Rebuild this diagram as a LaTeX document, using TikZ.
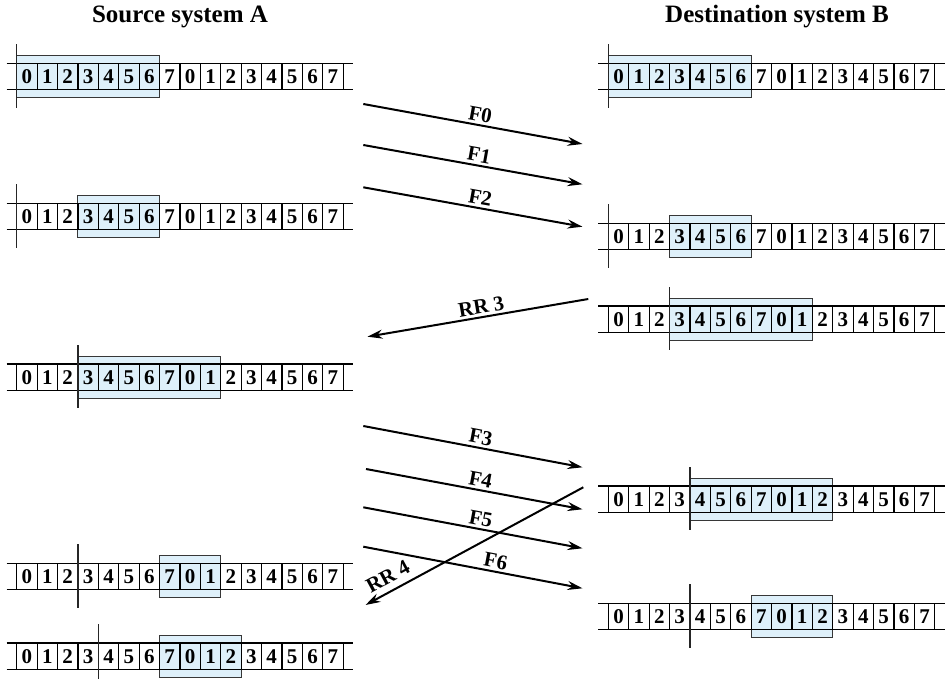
\documentclass[tikz,border=0pt]{standalone}
\usepackage{fontspec}
\setmainfont{Liberation Serif}
\usetikzlibrary{arrows.meta}
\definecolor{winblue}{RGB}{222,240,250}
\definecolor{wingray}{RGB}{55,55,55}
\tikzset{
  cellnum/.style={font=\bfseries\fontsize{21}{21}\selectfont, inner sep=0pt, anchor=center},
  stripline/.style={line width=1.3pt, black},
  cellline/.style={line width=1.2pt, black},
  winbox/.style={fill=winblue, draw=wingray, line width=1pt},
  markline/.style={line width=1.3pt, black!85},
  flow/.style={line width=2pt, -{Stealth[length=15pt,width=9pt,inset=5pt]}},
  backflow/.style={line width=2pt, {Stealth[length=15pt,width=9pt,inset=5pt]}-},
  flowlbl/.style={font=\bfseries\fontsize{21}{21}\selectfont, sloped, above=1.5pt, inner sep=1pt},
  titlelbl/.style={font=\bfseries\fontsize{25}{25}\selectfont, inner sep=0pt}
}
% #1 name, #2 x0, #3 ytop, #4 window start, #5 window end, #6 marker
\newcommand{\drawstrip}[6]{%
  \begin{scope}[shift={(#2,#3)}]
    \path[winbox] ({#4*20.4},-8) rectangle ({#5*20.4},34.3);
    \draw[stripline] (-10,0) -- (336.4,0);
    \draw[stripline] (-10,26.3) -- (336.4,26.3);
    \foreach \i in {0,...,16}{\draw[cellline] ({\i*20.4},0) -- ({\i*20.4},26.3);}
    \foreach \i in {0,...,15}{%
      \pgfmathtruncatemacro\dg{mod(\i,8)}%
      \node[cellnum] (#1-\i) at ({(\i+0.5)*20.4},13.4) {\dg};}
    \draw[markline] ({#6*20.4},-19) -- ({#6*20.4},44.3);
  \end{scope}}
\begin{document}
\begin{tikzpicture}[x=1pt,y=-1pt]
  \useasboundingbox (0,0) rectangle (950,679);
  % titles
  \node[titlelbl] (titleA) at (180,17) {Source system A};
  \node[titlelbl] (titleB) at (777,17) {Destination system B};
  % source strips
  \drawstrip{A1}{16.7}{63.3}{0}{7}{0}
  \drawstrip{A2}{16.7}{203.3}{3}{7}{0}
  \drawstrip{A3}{16.7}{364}{3}{10}{3}
  \drawstrip{A4}{16.7}{563.3}{7}{10}{3}
  \drawstrip{A5}{16.7}{643}{7}{11}{4}
  % destination strips
  \drawstrip{B1}{608.3}{63.3}{0}{7}{0}
  \drawstrip{B2}{608.3}{223.3}{3}{7}{0}
  \drawstrip{B3}{608.3}{306}{3}{10}{3}
  \drawstrip{B4}{608.3}{486}{4}{11}{4}
  \drawstrip{B5}{608.3}{603.3}{7}{11}{4}
  % arrow end points
  \coordinate (f0s) at (363.3,104);   \coordinate (f0e) at (582.5,144);
  \coordinate (f1s) at (363.3,145);   \coordinate (f1e) at (582.5,184.3);
  \coordinate (f2s) at (363.3,187.3); \coordinate (f2e) at (582.5,226.7);
  \coordinate (r3e) at (367.5,336.7); \coordinate (r3s) at (588.3,299);
  \coordinate (f3s) at (363.3,426);   \coordinate (f3e) at (582.5,467.3);
  \coordinate (f4s) at (366,469);     \coordinate (f4e) at (582.5,509.3);
  \coordinate (f5s) at (363.3,507.3); \coordinate (f5e) at (582.5,548.3);
  \coordinate (f6s) at (363.3,546.7); \coordinate (f6e) at (582.5,588.3);
  \coordinate (r4e) at (365.5,605);   \coordinate (r4s) at (583.3,487.3);
  % frames
  \draw[flow] (f0s) -- node[flowlbl, pos=0.525] (lF0) {F0} (f0e);
  \draw[flow] (f1s) -- node[flowlbl, pos=0.52] (lF1) {F1} (f1e);
  \draw[flow] (f2s) -- node[flowlbl, pos=0.525] (lF2) {F2} (f2e);
  \draw[backflow] (r3e) -- node[flowlbl, pos=0.523] (lR3) {RR 3} (r3s);
  \draw[flow] (f3s) -- node[flowlbl, pos=0.527] (lF3) {F3} (f3e);
  \draw[flow] (f4s) -- node[flowlbl, pos=0.52] (lF4) {F4} (f4e);
  \draw[flow] (f5s) -- node[flowlbl, pos=0.527] (lF5) {F5} (f5e);
  \draw[flow] (f6s) -- node[flowlbl, pos=0.595] (lF6) {F6} (f6e);
  \draw[backflow] (r4e) -- node[flowlbl, pos=0.134, above=4pt] (lR4) {RR 4} (r4s);
\end{tikzpicture}
\end{document}
